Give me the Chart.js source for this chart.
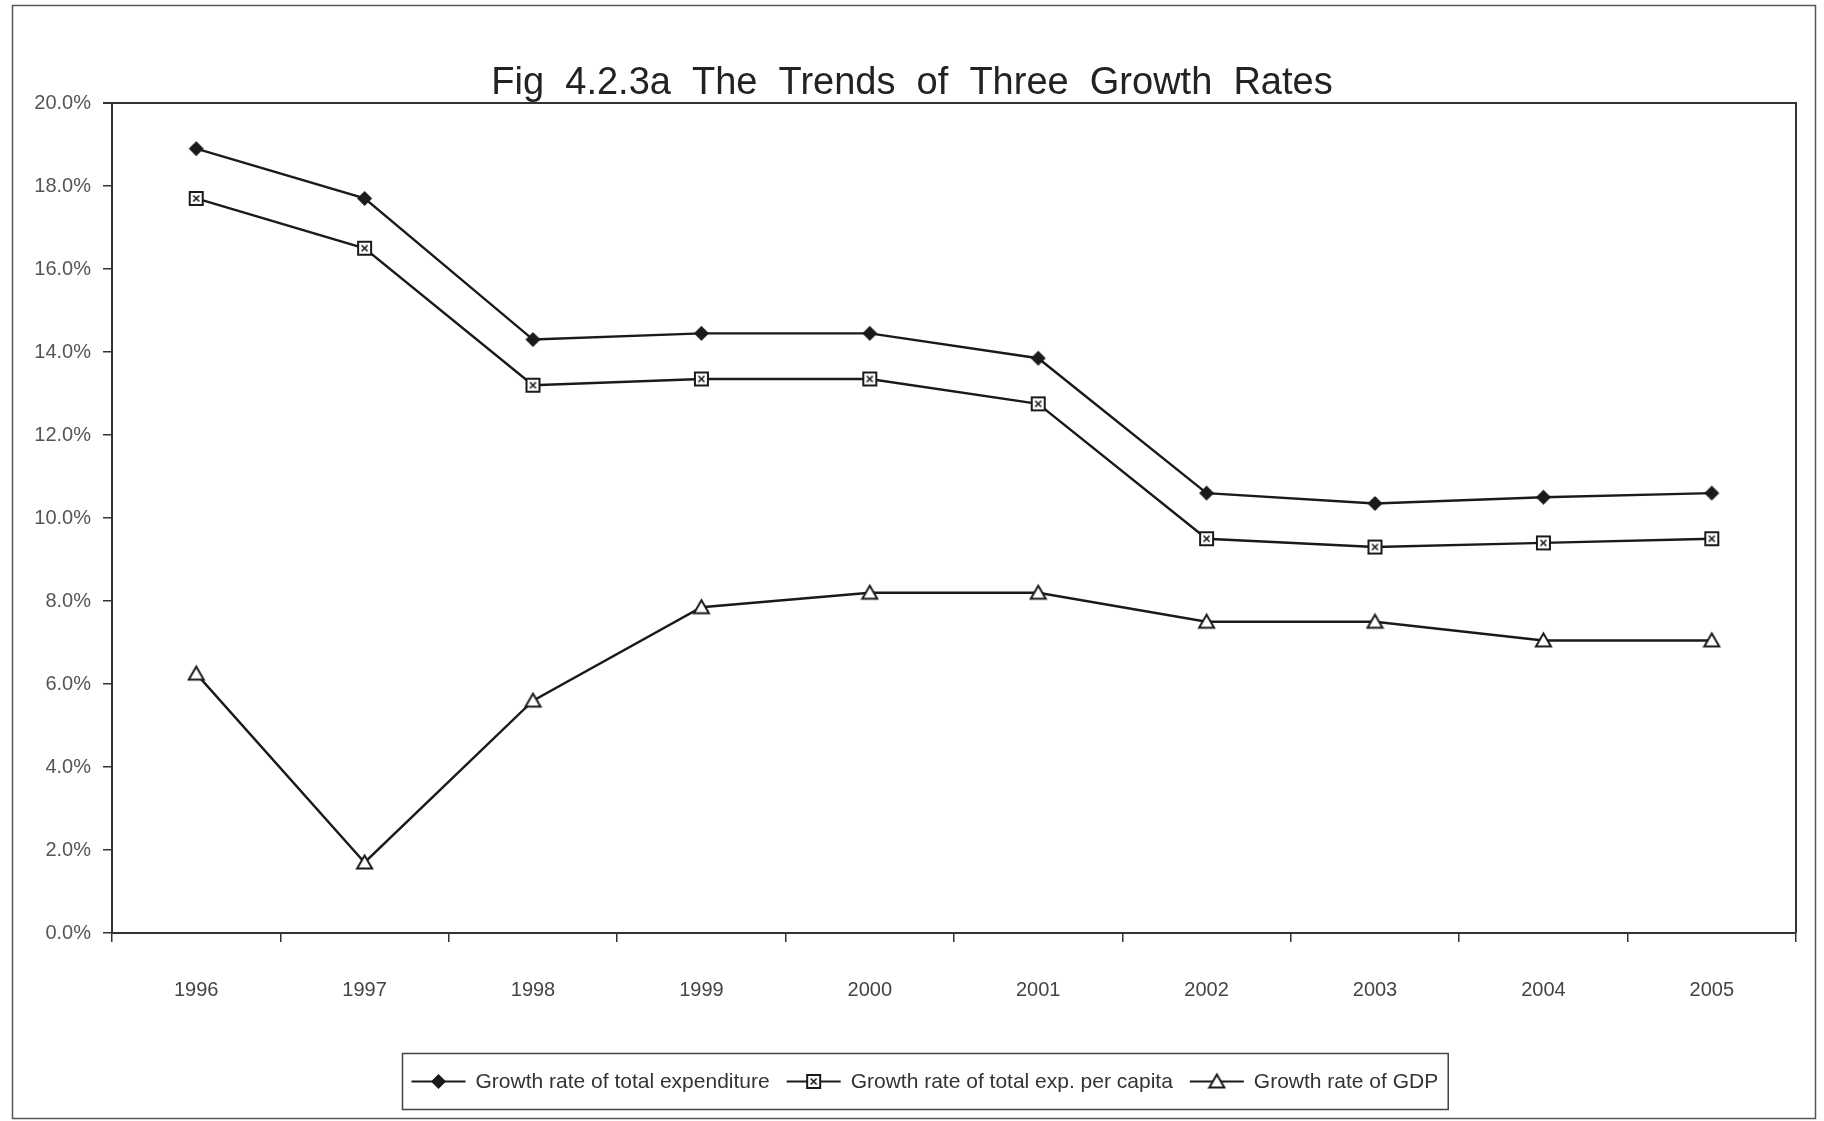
<!DOCTYPE html>
<html>
<head>
<meta charset="utf-8">
<title>Fig 4.2.3a The Trends of Three Growth Rates</title>
<script src="https://cdn.jsdelivr.net/npm/chart.js@4.4.1/dist/chart.umd.min.js"></script>
<style>
  html, body { margin: 0; padding: 0; background: #ffffff; }
  canvas { display: block; }
</style>
</head>
<body>
<canvas id="chart" width="1824" height="1121"></canvas>
<script>
// Years on the category axis
const years = ['1996', '1997', '1998', '1999', '2000', '2001', '2002', '2003', '2004', '2005'];

// Growth rates, in percent
const totalExpenditureGrowth = [18.9, 17.7, 14.3, 14.45, 14.45, 13.85, 10.6, 10.35, 10.5, 10.6];
const perCapitaExpGrowth     = [17.7, 16.5, 13.2, 13.35, 13.35, 12.75, 9.5, 9.3, 9.4, 9.5];
const gdpGrowth              = [6.25, 1.7, 5.6, 7.85, 8.2, 8.2, 7.5, 7.5, 7.05, 7.05];

// Series names
const seriesNames = [
  'Growth rate of total expenditure',
  'Growth rate of total exp. per capita',
  'Growth rate of GDP'
];

const chartTitle = 'Fig  4.2.3a  The  Trends  of  Three  Growth  Rates';

const INK = '#1a1a1a';
const FONT = '"Liberation Sans", Arial, Helvetica, sans-serif';

// Small canvases used as point markers (and reused in the legend)
function makeMarker(kind) {
  const s = 19;
  const c = document.createElement('canvas');
  c.width = s; c.height = s;
  const g = c.getContext('2d');
  const m = s / 2;
  g.lineWidth = 2;
  g.strokeStyle = INK;
  g.fillStyle = INK;
  if (kind === 'diamond') {
    g.beginPath();
    g.moveTo(m, m - 7.5);
    g.lineTo(m + 7.5, m);
    g.lineTo(m, m + 7.5);
    g.lineTo(m - 7.5, m);
    g.closePath();
    g.fill();
  } else if (kind === 'square') {
    g.fillStyle = '#ffffff';
    g.fillRect(m - 6.5, m - 6.5, 13, 13);
    g.strokeRect(m - 6.5, m - 6.5, 13, 13);
    g.lineWidth = 1.6;
    g.beginPath();
    g.moveTo(m - 3, m - 3); g.lineTo(m + 3, m + 3);
    g.moveTo(m + 3, m - 3); g.lineTo(m - 3, m + 3);
    g.stroke();
  } else {
    g.fillStyle = '#ffffff';
    g.beginPath();
    g.moveTo(m, m - 7);
    g.lineTo(m + 7.5, m + 6);
    g.lineTo(m - 7.5, m + 6);
    g.closePath();
    g.fill();
    g.stroke();
  }
  return c;
}

const markers = [makeMarker('diamond'), makeMarker('square'), makeMarker('triangle')];

// Outer frame plus top/right edges of the plot area
const framePlugin = {
  id: 'frame',
  afterDraw(chart) {
    const { ctx, chartArea: a } = chart;
    ctx.save();
    ctx.strokeStyle = '#555555';
    ctx.lineWidth = 1.5;
    ctx.strokeRect(12.5, 5.5, 1803, 1113);
    ctx.strokeStyle = '#333333';
    ctx.lineWidth = 2;
    ctx.beginPath();
    ctx.moveTo(a.left - 9, a.top);
    ctx.lineTo(a.right, a.top);
    ctx.lineTo(a.right, a.bottom);
    ctx.stroke();
    ctx.restore();
  }
};

// Boxed legend below the axis: line + marker, then the series name
const boxedLegend = {
  id: 'boxedLegend',
  afterDraw(chart) {
    const ctx = chart.ctx;
    ctx.save();
    ctx.font = '21px ' + FONT;
    const items = chart.data.datasets.map(ds => ({ ds, w: ctx.measureText(ds.label).width }));
    const padL = 9, lineW = 54, gap = 10, itemGap = 17, padR = 10;
    const total = padL + padR + items.reduce((s, it) => s + lineW + gap + it.w, 0) + itemGap * (items.length - 1);
    const cx = 925, top = 1053.5, h = 56;
    const left = Math.round(cx - total / 2) + 0.5;
    ctx.strokeStyle = '#444444';
    ctx.lineWidth = 1.5;
    ctx.strokeRect(left, top, total, h);
    const y = top + h / 2;
    let x = left + padL;
    ctx.textBaseline = 'middle';
    ctx.textAlign = 'left';
    items.forEach(it => {
      ctx.strokeStyle = INK;
      ctx.lineWidth = 2;
      ctx.beginPath();
      ctx.moveTo(x, y);
      ctx.lineTo(x + lineW, y);
      ctx.stroke();
      const img = it.ds.pointStyle;
      ctx.drawImage(img, x + lineW / 2 - img.width / 2, y - img.height / 2);
      x += lineW + gap;
      ctx.fillStyle = '#333333';
      ctx.fillText(it.ds.label, x, y + 1);
      x += it.w + itemGap;
    });
    ctx.restore();
  }
};

const seriesValues = [totalExpenditureGrowth, perCapitaExpGrowth, gdpGrowth];

new Chart(document.getElementById('chart'), {
  type: 'line',
  data: {
    labels: years,
    datasets: seriesValues.map((vals, i) => ({
      label: seriesNames[i],
      data: vals,
      borderColor: INK,
      borderWidth: 2.4,
      backgroundColor: INK,
      pointStyle: markers[i],
      pointRadius: 8,
      tension: 0,
      fill: false
    }))
  },
  options: {
    responsive: false,
    animation: false,
    devicePixelRatio: 1,
    layout: { padding: 0 },
    plugins: {
      legend: { display: false },
      tooltip: { enabled: false },
      title: {
        display: true,
        text: chartTitle,
        color: '#222222',
        font: { family: FONT, size: 38, weight: 'normal', lineHeight: 1 },
        padding: { top: 65, bottom: 0 }
      }
    },
    scales: {
      x: {
        type: 'category',
        offset: true,
        grid: {
          offset: true,
          drawOnChartArea: false,
          drawTicks: true,
          tickLength: 9,
          color: '#333333',
          lineWidth: 1.5
        },
        border: { display: true, color: '#333333', width: 2 },
        ticks: {
          color: '#444444',
          font: { family: FONT, size: 20 },
          padding: 36,
          maxRotation: 0,
          autoSkip: false
        },
        afterFit(scale) { scale.height = 188; }
      },
      y: {
        min: 0,
        max: 20,
        grid: {
          drawOnChartArea: false,
          drawTicks: true,
          tickLength: 9,
          color: '#333333',
          lineWidth: 1.5
        },
        border: { display: true, color: '#333333', width: 2 },
        ticks: {
          stepSize: 2,
          color: '#555555',
          font: { family: FONT, size: 20 },
          padding: 12,
          callback: v => v.toFixed(1) + '%'
        },
        afterFit(scale) { scale.width = 112; }
      },
      // empty margin on the right of the plot, keeps the title centred on the page
      rightMargin: {
        type: 'linear',
        position: 'right',
        display: true,
        grid: { display: false },
        border: { display: false },
        ticks: { display: false },
        afterFit(scale) { scale.width = 28; }
      }
    }
  },
  plugins: [framePlugin, boxedLegend]
});
</script>
</body>
</html>
